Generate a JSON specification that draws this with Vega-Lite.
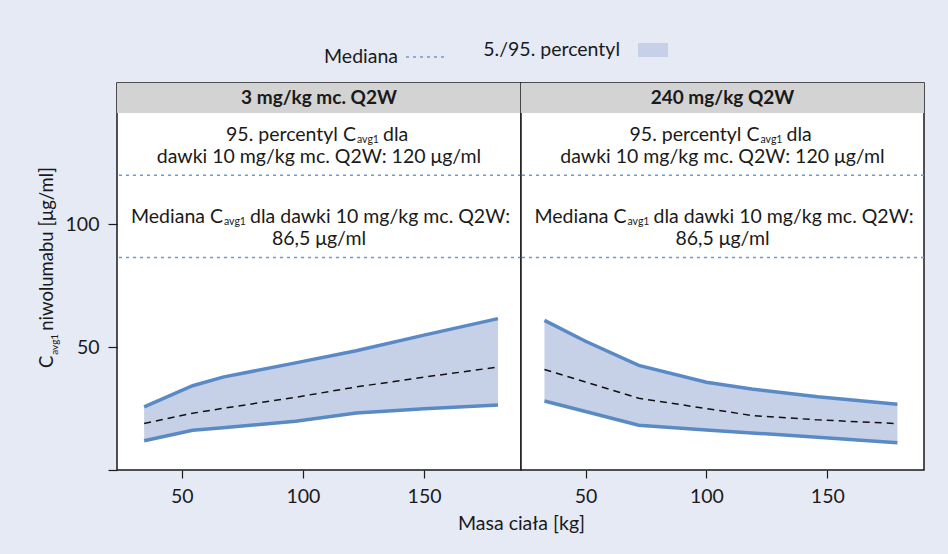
{
  "$schema": "https://vega.github.io/schema/vega-lite/v6.json",
  "background": "#e6eaf5",
  "padding": {"left": 37, "top": 35, "right": 24, "bottom": 20},
  "spacing": 0,
  "bounds": "flush",
  "datasets": {
    "bands": [
      {"panel": "L", "w": 34.5, "lo": 11.9, "med": 18.9, "hi": 25.7},
      {"panel": "L", "w": 54.5, "lo": 16.2, "med": 23.1, "hi": 34.3},
      {"panel": "L", "w": 67, "lo": 17.2, "med": 25.1, "hi": 37.8},
      {"panel": "L", "w": 97, "lo": 19.8, "med": 29.6, "hi": 43.6},
      {"panel": "L", "w": 122, "lo": 23.2, "med": 33.8, "hi": 48.5},
      {"panel": "L", "w": 150, "lo": 24.9, "med": 37.8, "hi": 54.9},
      {"panel": "L", "w": 180.5, "lo": 26.5, "med": 41.9, "hi": 61.6},
      {"panel": "R", "w": 33, "lo": 28.1, "med": 40.9, "hi": 60.9},
      {"panel": "R", "w": 50, "lo": 23.8, "med": 35.8, "hi": 52.4},
      {"panel": "R", "w": 72, "lo": 18.2, "med": 29.2, "hi": 42.6},
      {"panel": "R", "w": 100, "lo": 16.3, "med": 25.0, "hi": 35.7},
      {"panel": "R", "w": 118.7, "lo": 15.1, "med": 22.2, "hi": 33.0},
      {"panel": "R", "w": 146, "lo": 13.3, "med": 20.4, "hi": 29.8},
      {"panel": "R", "w": 179, "lo": 11.1, "med": 18.9, "hi": 26.8}
    ],
    "refs": [
      {"name": "95. percentyl", "v": 120, "series": "Mediana"},
      {"name": "Mediana", "v": 86.5, "series": "Mediana"}
    ],
    "heads": [
      {"panel": "L", "t": "3 mg/kg mc. Q2W", "x": 106.65, "y": 151.4, "x0": 23.3, "x1": 190, "y0": 145.3, "y1": 157.5},
      {"panel": "R", "t": "240 mg/kg Q2W", "x": 106.65, "y": 151.4, "x0": 23.3, "x1": 190, "y0": 145.3, "y1": 157.5}
    ],
    "ann": [
      {"kind": "a", "t": "95. percentyl C", "x": 106.65, "y": 136.4},
      {"kind": "s", "t": "avg1", "x": 106.65, "y": 136.4},
      {"kind": "b", "t": "dla", "x": 106.65, "y": 136.4},
      {"kind": "c", "t": "dawki 10 mg/kg mc. Q2W: 120 μg/ml", "x": 106.65, "y": 127.4},
      {"kind": "a2", "t": "Mediana C", "x": 106.65, "y": 103.0},
      {"kind": "s2", "t": "avg1", "x": 106.65, "y": 103.0},
      {"kind": "b2", "t": "dla dawki 10 mg/kg mc. Q2W:", "x": 106.65, "y": 103.0},
      {"kind": "c", "t": "86,5 μg/ml", "x": 106.65, "y": 94.1}
    ],
    "ytitle": [
      {"kind": "C", "t": "C", "x": -3, "y": 46.5},
      {"kind": "s", "t": "avg1", "x": -3, "y": 46.5},
      {"kind": "m", "t": "niwolumabu [μg/ml]", "x": -3, "y": 46.5}
    ]
  },
  "hconcat": [
    {
      "width": 404,
      "height": 387,
      "layer": [
        {
          "data": {"name": "bands"},
          "transform": [{"filter": "datum.panel == 'L'"}, {"calculate": "'5./95. percentyl'", "as": "series"}],
          "mark": {"type": "area", "opacity": 1},
          "encoding": {
            "x": {"field": "w", "type": "quantitative", "scale": {"domain": [23.3, 190], "nice": false, "zero": false},
              "axis": {"values": [50, 100, 150], "title": "Masa ciała [kg]", "titleX": 404, "titleAlign": "center", "titlePadding": 9}},
            "y": {"field": "lo", "type": "quantitative", "scale": {"domain": [0, 157.5], "nice": false},
              "axis": {"values": [0, 50, 100], "labelExpr": "datum.value == 0 ? '' : datum.label", "title": null}},
            "y2": {"field": "hi"},
            "fill": {"field": "series", "type": "nominal", "scale": {"range": ["#c6d1e7"]},
              "legend": {"orient": "none", "legendX": 521, "legendY": -48, "symbolType": "M-1,-0.467H1V0.467H-1Z", "symbolSize": 900, "symbolStrokeWidth": 0, "labelAlign": "right", "labelOffset": -48}}
          }
        },
        {
          "data": {"name": "heads"},
          "transform": [{"filter": "datum.panel == 'L'"}],
          "mark": {"type": "rect", "fill": "#d3d3d3"},
          "encoding": {"x": {"field": "x0", "type": "quantitative"}, "x2": {"field": "x1"}, "y": {"field": "y0", "type": "quantitative"}, "y2": {"field": "y1"}}
        },
        {
          "data": {"name": "refs"},
          "mark": {"type": "rule", "strokeDash": [3, 4], "strokeWidth": 1.5},
          "encoding": {
            "y": {"field": "v", "type": "quantitative"},
            "color": {"field": "series", "type": "nominal", "scale": {"range": ["#6d9ad3"]},
              "legend": {"orient": "none", "legendX": 288, "legendY": -48, "symbolType": "stroke", "symbolSize": 1764, "symbolStrokeWidth": 1.5, "symbolDash": [3, 4], "labelAlign": "right", "labelOffset": -51}}
          }
        },
        {
          "data": {"name": "bands"},
          "transform": [{"filter": "datum.panel == 'L'"}],
          "mark": {"type": "line", "color": "#5a8ac6", "strokeWidth": 3.5, "strokeCap": "butt"},
          "encoding": {"x": {"field": "w", "type": "quantitative"}, "y": {"field": "lo", "type": "quantitative"}}
        },
        {
          "data": {"name": "bands"},
          "transform": [{"filter": "datum.panel == 'L'"}],
          "mark": {"type": "line", "color": "#5a8ac6", "strokeWidth": 3.5, "strokeCap": "butt"},
          "encoding": {"x": {"field": "w", "type": "quantitative"}, "y": {"field": "hi", "type": "quantitative"}}
        },
        {
          "data": {"name": "bands"},
          "transform": [{"filter": "datum.panel == 'L'"}],
          "mark": {"type": "line", "color": "#111111", "strokeWidth": 1.5, "strokeDash": [7, 5]},
          "encoding": {"x": {"field": "w", "type": "quantitative"}, "y": {"field": "med", "type": "quantitative"}}
        },
        {
          "data": {"name": "heads"},
          "transform": [{"filter": "datum.panel == 'L'"}],
          "mark": {"type": "text", "fontWeight": "bold", "fontSize": 19, "baseline": "middle", "color": "#1a1a1a"},
          "encoding": {"x": {"field": "x", "type": "quantitative"}, "y": {"field": "y", "type": "quantitative"}, "text": {"field": "t", "type": "nominal"}}
        },
        {
          "data": {"name": "ann"},
          "transform": [{"filter": "datum.kind == 'c'"}],
          "mark": {"type": "text", "fontSize": 19.5, "baseline": "middle", "align": "center", "color": "#1a1a1a"},
          "encoding": {"x": {"field": "x", "type": "quantitative"}, "y": {"field": "y", "type": "quantitative"}, "text": {"field": "t", "type": "nominal"}}
        },
        {
          "data": {"name": "ann"},
          "transform": [{"filter": "datum.kind == 'a'"}],
          "mark": {"type": "text", "fontSize": 19.5, "baseline": "middle", "align": "right", "dx": 37, "color": "#1a1a1a"},
          "encoding": {"x": {"field": "x", "type": "quantitative"}, "y": {"field": "y", "type": "quantitative"}, "text": {"field": "t", "type": "nominal"}}
        },
        {
          "data": {"name": "ann"},
          "transform": [{"filter": "datum.kind == 's'"}],
          "mark": {"type": "text", "fontSize": 10.5, "baseline": "middle", "align": "left", "dx": 38, "dy": 5.5, "color": "#1a1a1a"},
          "encoding": {"x": {"field": "x", "type": "quantitative"}, "y": {"field": "y", "type": "quantitative"}, "text": {"field": "t", "type": "nominal"}}
        },
        {
          "data": {"name": "ann"},
          "transform": [{"filter": "datum.kind == 'b'"}],
          "mark": {"type": "text", "fontSize": 19.5, "baseline": "middle", "align": "left", "dx": 64, "color": "#1a1a1a"},
          "encoding": {"x": {"field": "x", "type": "quantitative"}, "y": {"field": "y", "type": "quantitative"}, "text": {"field": "t", "type": "nominal"}}
        },
        {
          "data": {"name": "ann"},
          "transform": [{"filter": "datum.kind == 'a2'"}],
          "mark": {"type": "text", "fontSize": 19.5, "baseline": "middle", "align": "right", "dx": -96, "color": "#1a1a1a"},
          "encoding": {"x": {"field": "x", "type": "quantitative"}, "y": {"field": "y", "type": "quantitative"}, "text": {"field": "t", "type": "nominal"}}
        },
        {
          "data": {"name": "ann"},
          "transform": [{"filter": "datum.kind == 's2'"}],
          "mark": {"type": "text", "fontSize": 10.5, "baseline": "middle", "align": "left", "dx": -95, "dy": 5.5, "color": "#1a1a1a"},
          "encoding": {"x": {"field": "x", "type": "quantitative"}, "y": {"field": "y", "type": "quantitative"}, "text": {"field": "t", "type": "nominal"}}
        },
        {
          "data": {"name": "ann"},
          "transform": [{"filter": "datum.kind == 'b2'"}],
          "mark": {"type": "text", "fontSize": 19.5, "baseline": "middle", "align": "left", "dx": -69, "color": "#1a1a1a"},
          "encoding": {"x": {"field": "x", "type": "quantitative"}, "y": {"field": "y", "type": "quantitative"}, "text": {"field": "t", "type": "nominal"}}
        },
        {
          "data": {"name": "ytitle"},
          "transform": [{"filter": "datum.kind == 'C'"}],
          "mark": {"type": "text", "fontSize": 18.5, "angle": 270, "baseline": "alphabetic", "align": "right", "color": "#1a1a1a"},
          "encoding": {"x": {"field": "x", "type": "quantitative"}, "y": {"field": "y", "type": "quantitative"}, "text": {"field": "t", "type": "nominal"}}
        },
        {
          "data": {"name": "ytitle"},
          "transform": [{"filter": "datum.kind == 's'"}],
          "mark": {"type": "text", "fontSize": 10, "angle": 270, "baseline": "alphabetic", "align": "left", "dx": 1, "dy": 4.5, "color": "#1a1a1a"},
          "encoding": {"x": {"field": "x", "type": "quantitative"}, "y": {"field": "y", "type": "quantitative"}, "text": {"field": "t", "type": "nominal"}}
        },
        {
          "data": {"name": "ytitle"},
          "transform": [{"filter": "datum.kind == 'm'"}],
          "mark": {"type": "text", "fontSize": 18.5, "angle": 270, "baseline": "alphabetic", "align": "left", "dx": 25, "color": "#1a1a1a"},
          "encoding": {"x": {"field": "x", "type": "quantitative"}, "y": {"field": "y", "type": "quantitative"}, "text": {"field": "t", "type": "nominal"}}
        }
      ]
    },
    {
      "width": 403,
      "height": 387,
      "layer": [
        {
          "data": {"name": "bands"},
          "transform": [{"filter": "datum.panel == 'R'"}, {"calculate": "'5./95. percentyl'", "as": "series"}],
          "mark": {"type": "area", "opacity": 1},
          "encoding": {
            "x": {"field": "w", "type": "quantitative", "scale": {"domain": [23.3, 190], "nice": false, "zero": false},
              "axis": {"values": [50, 100, 150], "title": null}},
            "y": {"field": "lo", "type": "quantitative", "scale": {"domain": [0, 157.5], "nice": false}, "axis": null},
            "y2": {"field": "hi"},
            "fill": {"field": "series", "type": "nominal", "scale": {"range": ["#c6d1e7"]}}
          }
        },
        {
          "data": {"name": "heads"},
          "transform": [{"filter": "datum.panel == 'R'"}],
          "mark": {"type": "rect", "fill": "#d3d3d3"},
          "encoding": {"x": {"field": "x0", "type": "quantitative"}, "x2": {"field": "x1"}, "y": {"field": "y0", "type": "quantitative"}, "y2": {"field": "y1"}}
        },
        {
          "data": {"name": "refs"},
          "mark": {"type": "rule", "strokeDash": [3, 4], "strokeWidth": 1.5},
          "encoding": {
            "y": {"field": "v", "type": "quantitative"},
            "color": {"field": "series", "type": "nominal", "scale": {"range": ["#6d9ad3"]}}
          }
        },
        {
          "data": {"name": "bands"},
          "transform": [{"filter": "datum.panel == 'R'"}],
          "mark": {"type": "line", "color": "#5a8ac6", "strokeWidth": 3.5, "strokeCap": "butt"},
          "encoding": {"x": {"field": "w", "type": "quantitative"}, "y": {"field": "lo", "type": "quantitative"}}
        },
        {
          "data": {"name": "bands"},
          "transform": [{"filter": "datum.panel == 'R'"}],
          "mark": {"type": "line", "color": "#5a8ac6", "strokeWidth": 3.5, "strokeCap": "butt"},
          "encoding": {"x": {"field": "w", "type": "quantitative"}, "y": {"field": "hi", "type": "quantitative"}}
        },
        {
          "data": {"name": "bands"},
          "transform": [{"filter": "datum.panel == 'R'"}],
          "mark": {"type": "line", "color": "#111111", "strokeWidth": 1.5, "strokeDash": [7, 5]},
          "encoding": {"x": {"field": "w", "type": "quantitative"}, "y": {"field": "med", "type": "quantitative"}}
        },
        {
          "data": {"name": "heads"},
          "transform": [{"filter": "datum.panel == 'R'"}],
          "mark": {"type": "text", "fontWeight": "bold", "fontSize": 19, "baseline": "middle", "color": "#1a1a1a"},
          "encoding": {"x": {"field": "x", "type": "quantitative"}, "y": {"field": "y", "type": "quantitative"}, "text": {"field": "t", "type": "nominal"}}
        },
        {
          "data": {"name": "ann"},
          "transform": [{"filter": "datum.kind == 'c'"}],
          "mark": {"type": "text", "fontSize": 19.5, "baseline": "middle", "align": "center", "color": "#1a1a1a"},
          "encoding": {"x": {"field": "x", "type": "quantitative"}, "y": {"field": "y", "type": "quantitative"}, "text": {"field": "t", "type": "nominal"}}
        },
        {
          "data": {"name": "ann"},
          "transform": [{"filter": "datum.kind == 'a'"}],
          "mark": {"type": "text", "fontSize": 19.5, "baseline": "middle", "align": "right", "dx": 37, "color": "#1a1a1a"},
          "encoding": {"x": {"field": "x", "type": "quantitative"}, "y": {"field": "y", "type": "quantitative"}, "text": {"field": "t", "type": "nominal"}}
        },
        {
          "data": {"name": "ann"},
          "transform": [{"filter": "datum.kind == 's'"}],
          "mark": {"type": "text", "fontSize": 10.5, "baseline": "middle", "align": "left", "dx": 38, "dy": 5.5, "color": "#1a1a1a"},
          "encoding": {"x": {"field": "x", "type": "quantitative"}, "y": {"field": "y", "type": "quantitative"}, "text": {"field": "t", "type": "nominal"}}
        },
        {
          "data": {"name": "ann"},
          "transform": [{"filter": "datum.kind == 'b'"}],
          "mark": {"type": "text", "fontSize": 19.5, "baseline": "middle", "align": "left", "dx": 64, "color": "#1a1a1a"},
          "encoding": {"x": {"field": "x", "type": "quantitative"}, "y": {"field": "y", "type": "quantitative"}, "text": {"field": "t", "type": "nominal"}}
        },
        {
          "data": {"name": "ann"},
          "transform": [{"filter": "datum.kind == 'a2'"}],
          "mark": {"type": "text", "fontSize": 19.5, "baseline": "middle", "align": "right", "dx": -96, "color": "#1a1a1a"},
          "encoding": {"x": {"field": "x", "type": "quantitative"}, "y": {"field": "y", "type": "quantitative"}, "text": {"field": "t", "type": "nominal"}}
        },
        {
          "data": {"name": "ann"},
          "transform": [{"filter": "datum.kind == 's2'"}],
          "mark": {"type": "text", "fontSize": 10.5, "baseline": "middle", "align": "left", "dx": -95, "dy": 5.5, "color": "#1a1a1a"},
          "encoding": {"x": {"field": "x", "type": "quantitative"}, "y": {"field": "y", "type": "quantitative"}, "text": {"field": "t", "type": "nominal"}}
        },
        {
          "data": {"name": "ann"},
          "transform": [{"filter": "datum.kind == 'b2'"}],
          "mark": {"type": "text", "fontSize": 19.5, "baseline": "middle", "align": "left", "dx": -69, "color": "#1a1a1a"},
          "encoding": {"x": {"field": "x", "type": "quantitative"}, "y": {"field": "y", "type": "quantitative"}, "text": {"field": "t", "type": "nominal"}}
        }
      ]
    }
  ],
  "config": {
    "font": "Lato",
    "view": {"stroke": "#1a1a1a", "strokeWidth": 1.5, "fill": "white"},
    "axis": {
      "grid": false, "domain": false, "tickSize": 8, "tickColor": "#1a1a1a", "tickWidth": 1.2,
      "labelFontSize": 19.5, "labelColor": "#1a1a1a", "labelPadding": 9, "labelFont": "Lato",
      "titleFontSize": 19.5, "titleFontWeight": "normal", "titleColor": "#1a1a1a", "titleFont": "Lato"
    },
    "axisY": {"tickSize": 9, "labelPadding": 9},
    "legend": {
      "title": null, "labelFontSize": 19.5, "labelColor": "#1a1a1a", "labelFont": "Lato", "padding": 0
    }
  }
}
